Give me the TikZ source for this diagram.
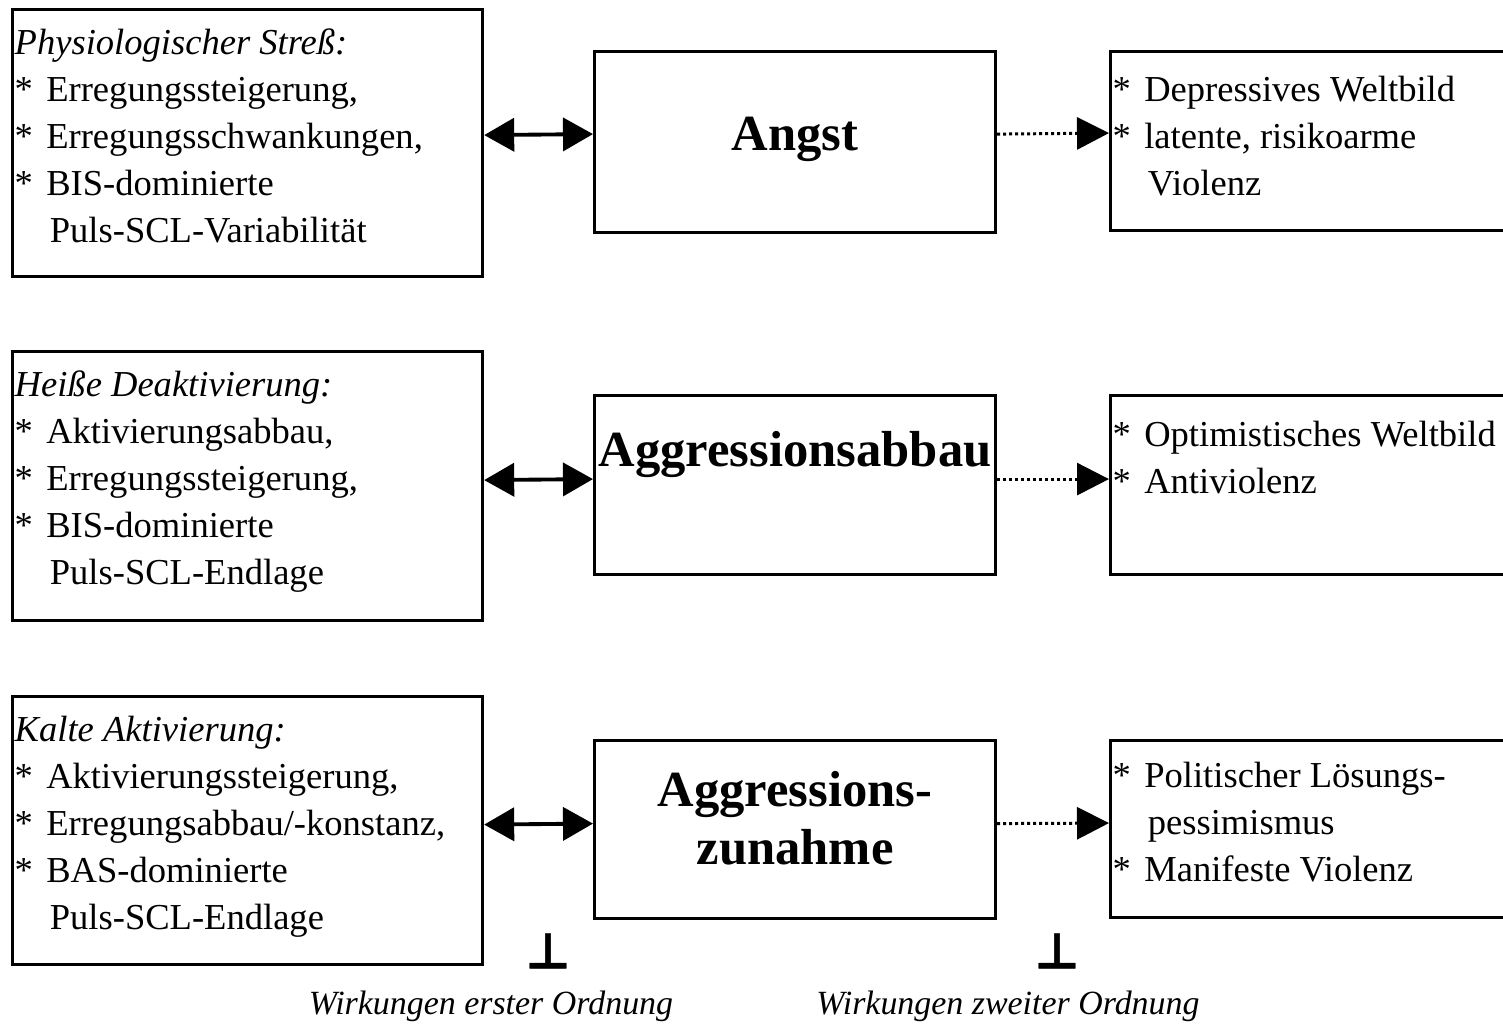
\documentclass[tikz,border=0pt]{standalone}
\usepackage{fontspec}
\setmainfont{Liberation Serif}
\newfontfamily\symfont{DejaVu Sans}[FakeBold=0.8]
\usetikzlibrary{arrows.meta,positioning}

\newcommand{\itm}{\makebox[9pt][l]{*}}
\newcommand{\cont}{\hspace*{10pt}}

\tikzset{
  box/.style={draw, line width=0.9pt, inner sep=0pt, anchor=north west},
  txt/.style={anchor=north west, align=left, inner sep=0pt,
    font=\fontsize{10.4}{13.4}\selectfont},
  head/.style={anchor=north, align=center, inner sep=0pt,
    font=\fontsize{14.4}{16.5}\selectfont\bfseries},
  both/.style={line width=1.1pt,
    {Triangle[length=0.3cm,width=0.33cm]}-{Triangle[length=0.3cm,width=0.33cm]}},
  effect/.style={line width=0.85pt, dash pattern=on 0.03cm off 0.03cm,
    -{Triangle[length=0.32cm,width=0.32cm]}},
  tack/.style={inner sep=0pt, font=\symfont\bfseries\fontsize{14}{14}\selectfont},
  order/.style={inner sep=0pt, font=\fontsize{9.65}{12}\selectfont\itshape},
}

\begin{document}
\begin{tikzpicture}
   \clip (0,0) rectangle (15.03,-10.30);

   % left column
   \node[box, minimum width=4.70cm, minimum height=2.67cm] (stress) at (0.11,-0.08) {};
   \node[box, minimum width=4.70cm, minimum height=2.69cm] (deakt) at (0.11,-3.50) {};
   \node[box, minimum width=4.70cm, minimum height=2.68cm] (aktiv) at (0.11,-6.95) {};

   % middle column
   \node[box, minimum width=4.01cm, minimum height=1.81cm] (angst) at (5.93,-0.50) {};
   \node[box, minimum width=4.01cm, minimum height=1.79cm] (abbau) at (5.93,-3.94) {};
   \node[box, minimum width=4.01cm, minimum height=1.78cm] (zunahme) at (5.93,-7.39) {};

   % right column
   \node[box, minimum width=4.30cm, minimum height=1.79cm] (depress) at (11.09,-0.50) {};
   \node[box, minimum width=4.30cm, minimum height=1.79cm] (optim) at (11.09,-3.94) {};
   \node[box, minimum width=4.30cm, minimum height=1.77cm] (pessim) at (11.09,-7.39) {};

   % texts
   \node[txt] (stresstxt) at ([xshift=0.03cm,yshift=-0.20cm]stress.north west)
     {\textit{Physiologischer Streß:}\\
      \itm Erregungssteigerung,\\
      \itm Erregungsschwankungen,\\
      \itm BIS-dominierte\\
      \cont Puls-SCL-Variabilität};
   \node[txt] (deakttxt) at ([xshift=0.03cm,yshift=-0.20cm]deakt.north west)
     {\textit{Heiße Deaktivierung:}\\
      \itm Aktivierungsabbau,\\
      \itm Erregungssteigerung,\\
      \itm BIS-dominierte\\
      \cont Puls-SCL-Endlage};
   \node[txt] (aktivtxt) at ([xshift=0.03cm,yshift=-0.20cm]aktiv.north west)
     {\textit{Kalte Aktivierung:}\\
      \itm Aktivierungssteigerung,\\
      \itm Erregungsabbau/-konstanz,\\
      \itm BAS-dominierte\\
      \cont Puls-SCL-Endlage};

   \node[head] (angsttxt) at ([yshift=-0.66cm]angst.north) {Angst};
   \node[head] (abbautxt) at ([yshift=-0.37cm]abbau.north) {Aggressionsabbau};
   \node[head] (zunahmetxt) at ([yshift=-0.32cm]zunahme.north) {Aggressions-\\zunahme};

   \node[txt] (depresstxt) at ([xshift=0.03cm,yshift=-0.25cm]depress.north west)
     {\itm Depressives Weltbild\\
      \itm latente, risikoarme\\
      \cont Violenz};
   \node[txt] (optimtxt) at ([xshift=0.03cm,yshift=-0.26cm]optim.north west)
     {\itm Optimistisches Weltbild\\
      \itm Antiviolenz};
   \node[txt] (pessimtxt) at ([xshift=0.03cm,yshift=-0.22cm]pessim.north west)
     {\itm Politischer Lösungs-\\
      \cont pessimismus\\
      \itm Manifeste Violenz};

   % arrows
   \draw[both] ([yshift=0.08cm]stress.east) -- ([yshift=0.08cm]angst.west);
   \draw[both] ([yshift=0.06cm]deakt.east) -- ([yshift=0.06cm]abbau.west);
   \draw[both] ([yshift=0.06cm]aktiv.east) -- ([yshift=0.06cm]zunahme.west);
   \draw[effect] ([yshift=0.08cm]angst.east) -- ([yshift=0.08cm]depress.west);
   \draw[effect] ([yshift=0.06cm]abbau.east) -- ([yshift=0.06cm]optim.west);
   \draw[effect] ([yshift=0.06cm]zunahme.east) -- ([yshift=0.06cm]pessim.west);

   % orders
   \node[tack] (tack1) at (5.48,-9.51) {⊥};
   \node[tack] (tack2) at (10.57,-9.51) {⊥};
   \node[order] (order1) at (4.91,-10.06) {Wirkungen erster Ordnung};
   \node[order] (order2) at (10.08,-10.06) {Wirkungen zweiter Ordnung};
\end{tikzpicture}
\end{document}
